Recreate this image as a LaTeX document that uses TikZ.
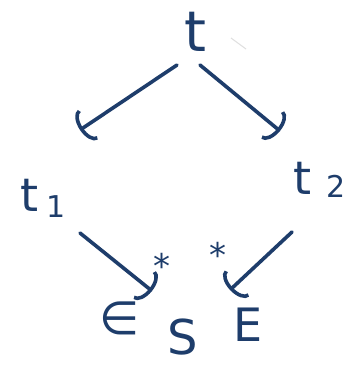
\documentclass[tikz,border=0pt]{standalone}
\usepackage{fontspec}
\setmainfont{DejaVu Sans}
\usetikzlibrary{arrows.meta}
\definecolor{ink}{HTML}{1E3D6B}
\begin{document}
\begin{tikzpicture}[x=1pt,y=-1pt,
  ink/.style={draw=ink, line width=3.6pt, line cap=round},
  lbl/.style={text=ink, inner sep=0pt, anchor=center},
  big/.style={lbl, font=\fontsize{56}{56}\selectfont},
  mid/.style={lbl, font=\fontsize{46}{46}\selectfont},
  sbig/.style={lbl, font=\fontsize{48}{48}\selectfont},
  sub/.style={lbl, font=\fontsize{30}{30}\selectfont},
  star/.style={lbl, font=\fontsize{34}{34}\selectfont},
  arr/.style={ink, -{Arc Barb[length=10pt,width=36pt,line width=3.6pt]}}]
\useasboundingbox[fill=white] (0,0) rectangle (358,370);

% nodes
\node[big] (t) at (195,32) {t};
\node[mid] (t1) at (30,195) {t};
\node[sub] (t1s) at (56,207) {1};
\node[mid] (t2) at (303,178) {t};
\node[sub] (t2s) at (336,186) {2};
\node[mid] (e1) at (120,318) {∈};
\node[sbig] (s) at (183,337) {S};
\node[mid] (e2) at (248,325) {E};

% arrow ends
\coordinate (a1s) at (177,65);
\coordinate (a1e) at (80,130);
\coordinate (a2s) at (200,65);
\coordinate (a2e) at (280,131);
\coordinate (a3s) at (80,233);
\coordinate (a3e) at (152,291);
\coordinate (a4s) at (292,232);
\coordinate (a4e) at (230,290);

\draw[arr] (a1s) -- (a1e);
\draw[arr] (a2s) -- (a2e);
\draw[arr] (a3s) -- (a3e);
\draw[arr] (a4s) -- (a4e);

\node[star] (st1) at (162,266) {*};
\node[star] (st2) at (218,255) {*};

% faint stray stroke
\draw[gray!25, line width=1pt] (231,38) -- (246,49);
\end{tikzpicture}
\end{document}
